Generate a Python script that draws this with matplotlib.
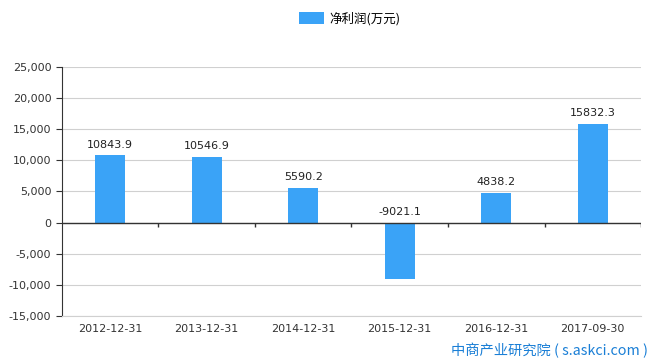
import matplotlib.pyplot as plt
import numpy as np
from matplotlib.ticker import FuncFormatter

plt.rcParams['font.family'] = ['DejaVu Sans', 'Noto Sans CJK SC']

dates = ["2012-12-31", "2013-12-31", "2014-12-31", "2015-12-31", "2016-12-31", "2017-09-30"]
profit = [10843.9, 10546.9, 5590.2, -9021.1, 4838.2, 15832.3]
series_name = "净利润(万元)"
source = "中商产业研究院 ( s.askci.com )"

bar_color = "#3aa3f7"

fig = plt.figure(figsize=(6.65, 3.62), dpi=100)
ax = fig.add_axes([0.093, 0.127, 0.871, 0.688])

x = np.arange(len(dates))
bars = ax.bar(x, profit, width=0.31, color=bar_color, label=series_name, zorder=3)

for xi, v in zip(x, profit):
    y = v if v > 0 else 0
    ax.text(xi, y + 900, f"{v}", ha='center', va='bottom', fontsize=8, color='#222222', zorder=5)

ax.set_xlim(-0.5, len(dates) - 0.5)
ax.set_ylim(-15000, 25000)
ax.set_yticks(np.arange(-15000, 25001, 5000))
ax.yaxis.set_major_formatter(FuncFormatter(lambda v, p: f"{int(v):,}"))
ax.grid(axis='y', color='#d0d0d0', linewidth=0.8, zorder=0)

ax.set_xticks(x)
ax.set_xticklabels(dates)
ax.tick_params(axis='x', length=0, pad=6, labelsize=8, labelcolor='#333333')
ax.tick_params(axis='y', length=4, color='#333333', labelsize=8, labelcolor='#333333')

for s in ['top', 'right']:
    ax.spines[s].set_visible(False)
ax.spines['bottom'].set_color('#d0d0d0')
ax.spines['left'].set_color('#333333')

# zero line with ticks at the category boundaries
ax.axhline(0, color='#333333', linewidth=1.0, zorder=4)
ax.vlines(np.arange(0.5, len(dates), 1.0), -700, 0, color='#333333', linewidth=1.0, zorder=4)

fig.legend(handles=[bars], labels=[series_name], loc='center', bbox_to_anchor=(0.526, 0.948),
           frameon=False, handlelength=2.0, handleheight=1.12, handletextpad=0.4,
           prop={'family': ['Noto Sans CJK SC'], 'size': 9})

fig.text(0.974, 0.033, source, ha='right', va='center', fontsize=10.3, color='#1a7fd6',
         family=['Noto Sans CJK SC'])

fig.savefig('out.png', dpi=100)
